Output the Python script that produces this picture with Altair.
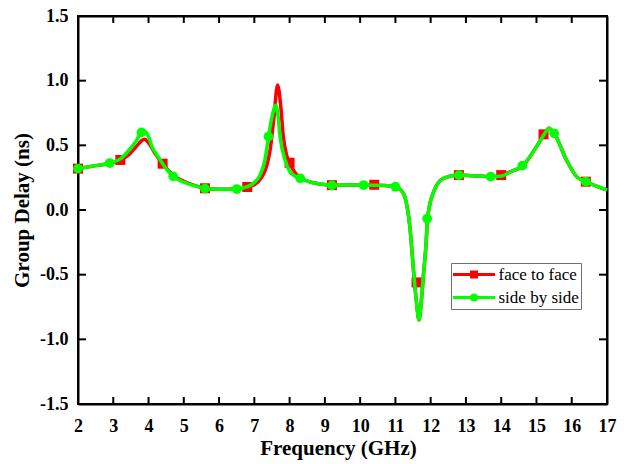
import altair as alt
import pandas as pd

series_names = ["face to face", "side by side"]
series_colors = ["#ff0000", "#00ff00"]

freq_face = [2.0, 2.5, 2.9, 3.2, 3.45, 3.65, 3.78, 3.88, 4.0, 4.2, 4.4, 4.6, 4.8, 5.0, 5.3, 5.6, 6.0, 6.5, 6.8,
             7.0, 7.2, 7.35, 7.45, 7.55, 7.66, 7.75, 7.82, 7.92, 8.0, 8.15, 8.3, 8.6, 8.9, 9.2, 10.1, 10.7, 11.0,
             11.15, 11.27, 11.41, 11.53, 11.6, 11.67, 11.73, 11.79, 11.87, 11.91, 12.07, 12.36, 12.8, 13.2, 13.7,
             14.0, 14.3, 14.61, 15.0, 15.22, 15.35, 15.5, 15.85, 16.14, 16.4, 16.7, 17.0]
delay_face = [0.32, 0.343, 0.36, 0.387, 0.43, 0.49, 0.53, 0.548, 0.52, 0.43, 0.358, 0.295, 0.25, 0.222, 0.19,
              0.168, 0.16, 0.16, 0.178, 0.195, 0.25, 0.34, 0.47, 0.70, 0.967, 0.80, 0.57, 0.42, 0.365, 0.29, 0.25,
              0.215, 0.2, 0.192, 0.193, 0.19, 0.18, 0.155, 0.10, -0.13, -0.52, -0.72, -0.85, -0.72, -0.52, -0.26,
              -0.07, 0.13, 0.245, 0.27, 0.265, 0.258, 0.268, 0.3, 0.34, 0.49, 0.585, 0.632, 0.593, 0.387, 0.258,
              0.219, 0.185, 0.155]

freq_side = [2.0, 2.5, 2.9, 3.2, 3.45, 3.64, 3.8, 3.87, 3.95, 4.12, 4.3, 4.5, 4.7, 5.0, 5.3, 5.6, 6.0, 6.5, 6.8,
             6.97, 7.16, 7.3, 7.4, 7.5, 7.61, 7.67, 7.73, 7.87, 8.01, 8.15, 8.3, 8.6, 8.9, 9.2, 10.1, 10.7, 11.0,
             11.15, 11.27, 11.41, 11.53, 11.6, 11.67, 11.73, 11.79, 11.87, 11.91, 12.07, 12.36, 12.8, 13.2, 13.7,
             14.0, 14.3, 14.61, 15.0, 15.22, 15.35, 15.5, 15.85, 16.14, 16.4, 16.7, 17.0]
delay_side = [0.32, 0.343, 0.363, 0.395, 0.464, 0.53, 0.60, 0.61, 0.595, 0.477, 0.40, 0.32, 0.26, 0.215, 0.188,
              0.168, 0.16, 0.162, 0.18, 0.206, 0.27, 0.387, 0.567, 0.72, 0.81, 0.73, 0.567, 0.387, 0.296, 0.262,
              0.245, 0.215, 0.2, 0.192, 0.193, 0.19, 0.18, 0.155, 0.10, -0.13, -0.52, -0.72, -0.85, -0.72, -0.52,
              -0.26, -0.07, 0.13, 0.245, 0.27, 0.265, 0.258, 0.262, 0.3, 0.343, 0.49, 0.585, 0.632, 0.593, 0.387,
              0.258, 0.219, 0.185, 0.155]

mark_freq_face = [2.0, 3.2, 4.4, 5.6, 6.8, 8.0, 9.2, 10.4, 11.6, 12.8, 14.0, 15.2, 16.4]
mark_delay_face = [0.32, 0.387, 0.358, 0.168, 0.178, 0.365, 0.192, 0.195, -0.56, 0.27, 0.27, 0.585, 0.219]

mark_freq_side = [2.0, 2.9, 3.8, 4.7, 5.6, 6.5, 7.4, 8.3, 9.2, 10.1, 11.0, 11.9, 12.8, 13.7, 14.6, 15.5, 16.4]
mark_delay_side = [0.32, 0.363, 0.60, 0.26, 0.165, 0.162, 0.567, 0.245, 0.19, 0.193, 0.18, -0.067, 0.27, 0.258,
                   0.343, 0.593, 0.219]

x_ticks = list(range(2, 18))
y_ticks = [-1.5, -1.0, -0.5, 0.0, 0.5, 1.0, 1.5]
x_min, x_max = 2, 17
y_min, y_max = -1.5, 1.5

line_face = pd.DataFrame({"f": freq_face, "v": delay_face})
line_side = pd.DataFrame({"f": freq_side, "v": delay_side})
pts_face = pd.DataFrame({"f": mark_freq_face, "v": mark_delay_face})
pts_side = pd.DataFrame({"f": mark_freq_side, "v": mark_delay_side})
legend_df = pd.DataFrame({"f": [mark_freq_face[0], mark_freq_side[0]],
                          "v": [mark_delay_face[0], mark_delay_side[0]], "s": series_names})
xt_df = pd.DataFrame({"t": x_ticks})
yt_df = pd.DataFrame({"t": y_ticks})

FONT = "Liberation Serif"
xscale = alt.Scale(domain=[x_min, x_max], nice=False, zero=False)
yscale = alt.Scale(domain=[y_min, y_max], nice=False, zero=False)
cscale = alt.Scale(domain=series_names, range=series_colors)

# legend symbols: line sample + marker (stroked only; the stroke width fills the marker)
SQ = "M-1.05,0L1.05,0M-0.125,-0.125L0.125,-0.125L0.125,0.125L-0.125,0.125Z"
CI = "M-1.05,0L1.05,0M-0.125,0A0.125,0.125,0,1,1,0.125,0A0.125,0.125,0,1,1,-0.125,0Z"
sscale = alt.Scale(domain=series_names, range=[SQ, CI])

legend = alt.Legend(
    title=None, orient="none", legendX=373, legendY=247, direction="vertical",
    padding=1.5, strokeColor="#707070", fillColor="white",
    labelFont=FONT, labelFontSize=17, labelColor="black", labelFontWeight="normal",
    symbolSize=1600, symbolStrokeWidth=3, symbolOffset=0, labelOffset=3,
    symbolOpacity=1, symbolFillColor="transparent",
    clipHeight=20, rowPadding=3,
)

ax_common = dict(domain=True, domainColor="black", domainWidth=2, ticks=False, grid=False,
                 labelFont=FONT, labelFontWeight="bold", labelFontSize=18, labelColor="black",
                 titleFont=FONT, titleFontWeight="bold", titleFontSize=21, titleColor="black")

x_bottom = alt.Axis(values=x_ticks, format="d", labelPadding=13, labelFlush=False,
                    title="Frequency (GHz)", titlePadding=2, titleX=260, **ax_common)
y_left = alt.Axis(values=y_ticks, labelPadding=10, labelFlush=False,
                  title="Group Delay (ns)", titlePadding=7,
                  labelExpr="datum.value < 0 ? '-' + format(-datum.value, '.1f') : format(datum.value, '.1f')",
                  **ax_common)
x_top = alt.Axis(values=x_ticks, orient="top", labels=False, title=None, **ax_common)
y_right = alt.Axis(values=y_ticks, orient="right", labels=False, title=None, **ax_common)

X = lambda **kw: alt.X("f:Q", scale=xscale, **kw)
Y = lambda **kw: alt.Y("v:Q", scale=yscale, **kw)

# inward tick marks on all four sides
tick_v = dict(color="black", opacity=1, thickness=2, size=7, orient="vertical")
tick_h = dict(color="black", opacity=1, thickness=2, size=8, orient="horizontal")
tb = alt.Chart(xt_df).mark_tick(yOffset=-3.5, **tick_v).encode(
    x=alt.X("t:Q", scale=xscale, axis=None), y=alt.YDatum(y_min, axis=None))
tt = alt.Chart(xt_df).mark_tick(yOffset=3.5, **tick_v).encode(
    x=alt.X("t:Q", scale=xscale, axis=None), y=alt.YDatum(y_max, axis=None))
tl = alt.Chart(yt_df).mark_tick(xOffset=4, **tick_h).encode(
    y=alt.Y("t:Q", scale=yscale, axis=None), x=alt.XDatum(x_min, axis=None))
tr = alt.Chart(yt_df).mark_tick(xOffset=-4, **tick_h).encode(
    y=alt.Y("t:Q", scale=yscale, axis=None), x=alt.XDatum(x_max, axis=None))

l1 = alt.Chart(line_face).mark_line(color=series_colors[0], strokeWidth=3.5, interpolate="monotone").encode(
    x=X(axis=x_bottom), y=Y(axis=y_left))
l2 = alt.Chart(pts_face).mark_point(shape="square", filled=True, size=100, opacity=1,
                                    color=series_colors[0]).encode(x=X(axis=None), y=Y(axis=None))
l3 = alt.Chart(line_side).mark_line(color=series_colors[1], strokeWidth=3.5, interpolate="monotone").encode(
    x=X(axis=None), y=Y(axis=None))
l4 = alt.Chart(pts_side).mark_circle(size=95, opacity=1, color=series_colors[1]).encode(
    x=X(axis=x_top), y=Y(axis=y_right))
# legend carrier (invisible marks; the legend is built from the explicit scale domains)
l5 = alt.Chart(legend_df).mark_point(filled=False, strokeWidth=3, opacity=0).encode(
    x=X(axis=None), y=Y(axis=None),
    color=alt.Color("s:N", scale=cscale, legend=legend),
    shape=alt.Shape("s:N", scale=sscale, legend=legend),
)

chart = alt.layer(tb, tt, tl, tr, l1, l2, l3, l4, l5).resolve_axis(x="independent", y="independent").properties(
    width=529, height=388,
    padding={"left": 78, "top": 16, "right": 17, "bottom": 60},
    autosize=alt.AutoSizeParams(type="none"),
    background="white",
).configure_view(stroke="black", strokeWidth=2)

chart.save("out.html", embed_options={"renderer": "svg", "actions": False})
